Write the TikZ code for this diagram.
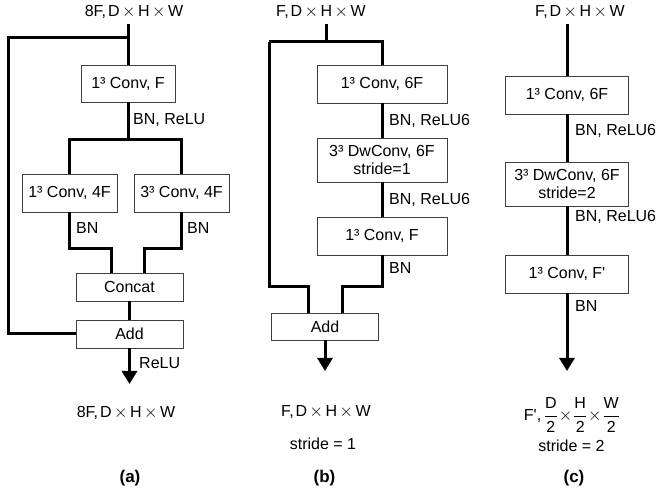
\documentclass[tikz,border=0pt]{standalone}
\usepackage{amsmath}
\usepackage{fontspec}
\setmainfont{Liberation Sans}
\usetikzlibrary{arrows.meta,calc}
\newcommand{\dimsof}[1]{#1,\kern2pt D\kern2.5pt$\times$\kern2.5pt H\kern2.5pt$\times$\kern2.5pt W}
\newcommand{\cub}[1]{#1³}
\begin{document}
\begin{tikzpicture}[x=1pt,y=-1pt,
  txt/.style={font=\fontsize{16}{18}\selectfont, inner sep=0pt},
  lbl/.style={txt, anchor=west},
  boxnode/.style={txt, draw=black!75, line width=0.9pt, fill=white, align=center},
  wire/.style={line width=3pt, line join=miter},
  arrowwire/.style={wire, -{Triangle[width=15pt,length=13pt]}},
  captiontext/.style={font=\fontsize{17}{20}\selectfont\bfseries, inner sep=0pt}]
\useasboundingbox (0,0) rectangle (659,494);

% ---------------- (a) ----------------
\node[boxnode, minimum width=94pt, minimum height=37pt] (a1) at (128,83.5) {\cub{1} Conv, F};
\node[boxnode, minimum width=95pt, minimum height=38pt] (a2) at (69.5,193) {\cub{1} Conv, 4F};
\node[boxnode, minimum width=95pt, minimum height=38pt] (a3) at (181.5,193) {\cub{3} Conv, 4F};
\node[boxnode, minimum width=107pt, minimum height=28pt] (aconcat) at (129.5,287) {Concat};
\node[boxnode, minimum width=107pt, minimum height=28pt] (aadd) at (129.5,334) {Add};
\coordinate (aIn) at (128,24);
\coordinate (aL) at (8,38);
\coordinate (aS) at (128,140);
\coordinate (aJL) at (111,249);
\coordinate (aJR) at (144,249);
\coordinate (aOut) at (129.5,384);
\draw[wire] (aIn) -- (a1.north);
\draw[wire] (aIn |- aL) -- (aL) |- (aadd.west);
\draw[wire] (a1.south) -- (aS);
\draw[wire] (a2.north) |- (aS) -| (a3.north);
\draw[wire] (a2.south) |- (aJL) -- (aJL |- aconcat.north);
\draw[wire] (a3.south) |- (aJR) -- (aJR |- aconcat.north);
\draw[wire] (aconcat.south) -- (aadd.north);
\draw[arrowwire] (aadd.south) -- (aOut);
\node[lbl] (alab1) at (133,120) {BN, ReLU};
\node[lbl] (alab2) at (76,228) {BN};
\node[lbl] (alab3) at (187,228) {BN};
\node[lbl] (alab4) at (139,363) {ReLU};
\node[txt] (atop) at (134,12) {\dimsof{8F}};
\node[txt] (abot) at (126,413) {\dimsof{8F}};
\node[captiontext] (acap) at (130,478) {(a)};

% ---------------- (b) ----------------
\node[boxnode, minimum width=130pt, minimum height=38pt] (b1) at (382,84) {\cub{1} Conv, 6F};
\node[boxnode, minimum width=130pt, minimum height=44pt] (b2) at (382,160) {\cub{3} DwConv, 6F\\stride=1};
\node[boxnode, minimum width=130pt, minimum height=38pt] (b3) at (382,236) {\cub{1} Conv, F};
\node[boxnode, minimum width=107pt, minimum height=27pt] (badd) at (325,326.5) {Add};
\coordinate (bIn) at (326,24);
\coordinate (bL) at (269,42);
\coordinate (bJL) at (308,287);
\coordinate (bJR) at (342,287);
\coordinate (bOut) at (325,371);
\draw[wire] (bIn) -- (bIn |- bL);
\draw[wire] (bL) -| (b1.north);
\draw[wire] (b1.south) -- (b2.north);
\draw[wire] (b2.south) -- (b3.north);
\draw[wire] (bL) |- (bJL) -- (bJL |- badd.north);
\draw[wire] (b3.south) |- (bJR) -- (bJR |- badd.north);
\draw[arrowwire] (badd.south) -- (bOut);
\node[lbl] (blab1) at (389,121) {BN, ReLU6};
\node[lbl] (blab2) at (389,200) {BN, ReLU6};
\node[lbl] (blab3) at (389,268) {BN};
\node[txt] (btop) at (321,12) {\dimsof{F}};
\node[txt] (bbot) at (326,412) {\dimsof{F}};
\node[txt] (bstride) at (323,444) {stride = 1};
\node[captiontext] (bcap) at (324.5,478) {(b)};

% ---------------- (c) ----------------
\node[boxnode, minimum width=123pt, minimum height=38pt] (c1) at (567,95) {\cub{1} Conv, 6F};
\node[boxnode, minimum width=123pt, minimum height=44pt] (c2) at (567,184) {\cub{3} DwConv, 6F\\stride=2};
\node[boxnode, minimum width=123pt, minimum height=38pt] (c3) at (567,274) {\cub{1} Conv, F\textquotesingle};
\coordinate (cIn) at (567,24);
\coordinate (cOut) at (567,371);
\draw[wire] (cIn) -- (c1.north);
\draw[wire] (c1.south) -- (c2.north);
\draw[wire] (c2.south) -- (c3.north);
\draw[arrowwire] (c3.south) -- (cOut);
\node[lbl] (clab1) at (575,131) {BN, ReLU6};
\node[lbl] (clab2) at (575,217) {BN, ReLU6};
\node[lbl] (clab3) at (575,306) {BN};
\node[txt] (ctop) at (580,12) {\dimsof{F}};
\node[txt] (cbot) at (572,415) {F\textquotesingle,\,$\dfrac{\text{D}}{\text{2}}\!\times\!\dfrac{\text{H}}{\text{2}}\!\times\!\dfrac{\text{W}}{\text{2}}$};
\node[txt] (cstride) at (571.5,446) {stride = 2};
\node[captiontext] (ccap) at (574,478) {(c)};
\end{tikzpicture}
\end{document}
